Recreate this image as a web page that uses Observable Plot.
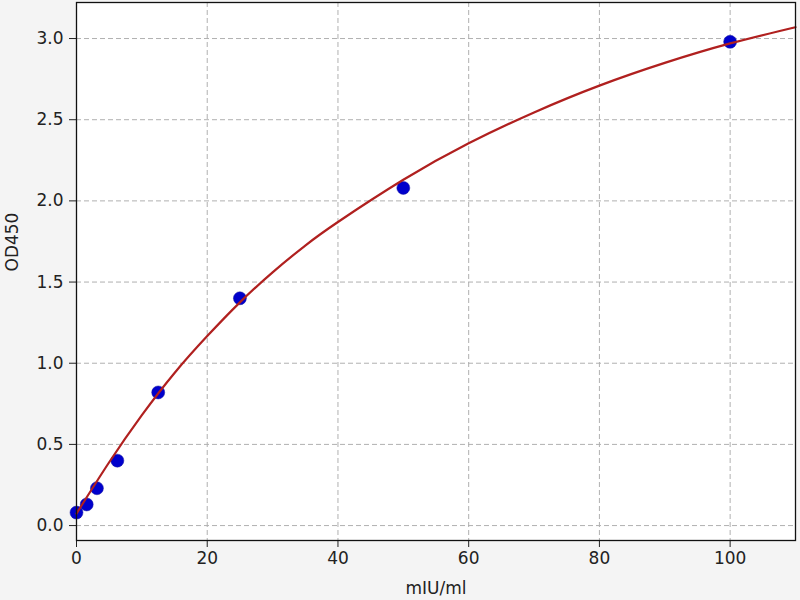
<!DOCTYPE html>
<html>
<head>
<meta charset="utf-8">
<script src="https://cdn.jsdelivr.net/npm/d3@7"></script>
<script src="https://cdn.jsdelivr.net/npm/@observablehq/plot@0.6"></script>
<style>
  html, body { margin: 0; padding: 0; background: #f4f4f4; }
  #chart { width: 800px; height: 600px; }
</style>
</head>
<body>
<div id="chart"></div>
<script>
// standards (mIU/ml) and measured OD450
const conc = [0, 1.5625, 3.125, 6.25, 12.5, 25, 50, 100]
const od = [0.08, 0.13, 0.23, 0.40, 0.82, 1.40, 2.08, 2.98]

// fitted curve
const fitX = [0, 5, 10, 15, 20, 25, 30, 35, 40, 50, 60, 70, 80, 90, 100, 110]
const fitY = [0.074, 0.39, 0.68, 0.94, 1.167, 1.375, 1.56, 1.725, 1.87, 2.13, 2.355, 2.545, 2.71, 2.85, 2.97, 3.07]

const xTicks = [0, 20, 40, 60, 80, 100]
const yTicks = [0, 0.5, 1.0, 1.5, 2.0, 2.5, 3.0]

const points = conc.map((c, i) => ({x: c, y: od[i]}))
const fit = fitX.map((x, i) => ({x, y: fitY[i]}))

const chart = Plot.plot({
  width: 800,
  height: 600,
  marginLeft: 76,
  marginRight: 5,
  marginTop: 2,
  marginBottom: 60,
  style: {background: "transparent", fontFamily: "DejaVu Sans", fontSize: "17px", color: "#222"},
  x: {domain: [0, 110]},
  y: {domain: [-0.092, 3.222]},
  marks: [
    Plot.frame({fill: "white", stroke: null}),
    Plot.gridX(xTicks, {stroke: "#b0b0b0", strokeOpacity: 1, strokeDasharray: "5,3"}),
    Plot.gridY(yTicks, {stroke: "#b0b0b0", strokeOpacity: 1, strokeDasharray: "5,3"}),
    Plot.dot(points, {x: "x", y: "y", r: 6.5, fill: "#0000cc", stroke: "#1a1aa0", strokeWidth: 0.5}),
    Plot.line(fit, {x: "x", y: "y", curve: "natural", stroke: "#b0201f", strokeWidth: 2.2}),
    Plot.axisX(xTicks, {tickSize: 7, tickPadding: 4, fontSize: 17, stroke: "#222", label: null}),
    Plot.axisY(yTicks, {tickSize: 7, tickPadding: 6, fontSize: 17, stroke: "#222", label: null, tickFormat: d3.format(".1f")}),
    Plot.text(["mIU/ml"], {frameAnchor: "bottom", dy: 53, fontSize: 17, fill: "#222"}),
    Plot.text(["OD450"], {frameAnchor: "left", dx: -64, rotate: -90, fontSize: 17, fill: "#222"}),
    Plot.frame({stroke: "#111", strokeWidth: 1.3})
  ]
})
document.getElementById("chart").append(chart)
</script>
</body>
</html>
